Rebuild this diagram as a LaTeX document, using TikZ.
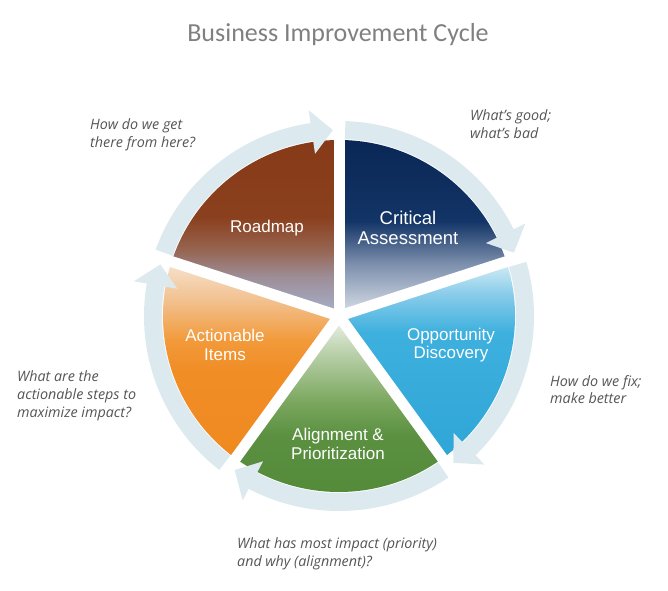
\documentclass[tikz,border=0pt]{standalone}
\usepackage{fontspec}
\setmainfont{Liberation Sans}
\newfontfamily\titlefont{Carlito}
\newfontfamily\notefont{Open Sans}
\definecolor{ringc}{RGB}{220,234,239}
\definecolor{titlec}{RGB}{128,128,128}
\definecolor{notec}{RGB}{85,85,85}
% critical
\definecolor{ca0}{RGB}{220,226,234}
\definecolor{ca1}{RGB}{123,142,172}
\definecolor{ca2}{RGB}{18,52,102}
\definecolor{ca3}{RGB}{10,39,86}
% roadmap
\definecolor{ro0}{RGB}{166,178,207}
\definecolor{ro1}{RGB}{158,142,152}
\definecolor{ro2}{RGB}{150,100,80}
\definecolor{ro3}{RGB}{138,64,30}
\definecolor{ro4}{RGB}{135,58,23}
% actionable
\definecolor{ac0}{RGB}{239,138,32}
\definecolor{ac1}{RGB}{240,141,37}
\definecolor{ac2}{RGB}{242,154,58}
\definecolor{ac3}{RGB}{242,192,142}
\definecolor{ac4}{RGB}{246,227,207}
% opportunity
\definecolor{op0}{RGB}{47,166,215}
\definecolor{op1}{RGB}{61,176,222}
\definecolor{op2}{RGB}{139,205,234}
\definecolor{op3}{RGB}{216,238,246}
% alignment
\definecolor{al0}{RGB}{83,138,56}
\definecolor{al1}{RGB}{90,144,64}
\definecolor{al2}{RGB}{122,167,94}
\definecolor{al3}{RGB}{185,208,170}
\definecolor{al4}{RGB}{240,243,238}
\pgfdeclareverticalshading{critshade}{100bp}{color(0bp)=(ca0); color(25bp)=(ca0); color(40bp)=(ca1); color(52bp)=(ca2); color(75bp)=(ca3); color(100bp)=(ca3)}
\pgfdeclareverticalshading{roadshade}{100bp}{color(0bp)=(ro0); color(25bp)=(ro0); color(36bp)=(ro1); color(44bp)=(ro2); color(53bp)=(ro3); color(75bp)=(ro4); color(100bp)=(ro4)}
\pgfdeclareverticalshading{actshade}{100bp}{color(0bp)=(ac0); color(25bp)=(ac0); color(47bp)=(ac1); color(55bp)=(ac2); color(65bp)=(ac3); color(75bp)=(ac4); color(100bp)=(ac4)}
\pgfdeclareverticalshading{oppshade}{100bp}{color(0bp)=(op0); color(25bp)=(op0); color(57bp)=(op1); color(67bp)=(op2); color(75bp)=(op3); color(100bp)=(op3)}
\pgfdeclareverticalshading{alishade}{100bp}{color(0bp)=(al0); color(25bp)=(al0); color(43bp)=(al1); color(52bp)=(al2); color(65bp)=(al3); color(75bp)=(al4); color(100bp)=(al4)}
\tikzset{
  gapline/.style={white, line width=11},
  ringseg/.style={fill=ringc, draw=none},
  seclabel/.style={text=white, align=center, font=\fontsize{17}{18.5}\selectfont},
  note/.style={text=notec, align=left, anchor=west, inner sep=0pt, font=\notefont\itshape\fontsize{14.3}{17.8}\selectfont}
}
\begin{document}
\begin{tikzpicture}[x=1pt,y=1pt]
\useasboundingbox (0,0) rectangle (668,590);
\fill[white] (0,0) rectangle (668,590);
\node[text=titlec, font=\titlefont\fontsize{26}{30}\selectfont] (title) at (338,555) {Business Improvement Cycle};
\begin{scope}[shift={(339,274)}]
  % sectors
  \path[shading=critshade] (0,0) -- (90:176) arc[start angle=90, end angle=18, radius=176] -- cycle;
  \path[shading=oppshade] (0,0) -- (18:176) arc[start angle=18, end angle=-54, radius=176] -- cycle;
  \path[shading=alishade] (0,0) -- (-54:176) arc[start angle=-54, end angle=-126, radius=176] -- cycle;
  \path[shading=actshade] (0,0) -- (-126:176) arc[start angle=-126, end angle=-198, radius=176] -- cycle;
  \path[shading=roadshade] (0,0) -- (162:176) arc[start angle=162, end angle=90, radius=176] -- cycle;
  % gaps
  \foreach \b in {90,18,-54,-126,162} {
    \draw[gapline] (0,0) -- (\b:182);
  }
  % ring segments with arrowheads
  \foreach \s/\t in {88.1/19.9, 16.1/-52.1, -55.9/-124.1, 232.1/163.9, 160.1/91.9} {
    \pgfmathsetmacro{\bb}{\t+6.5}
    \path[ringseg] (\s:177) arc[start angle=\s, end angle=\bb, radius=177]
      -- (\bb:164) -- (\t:186) -- (\bb:208) -- (\bb:195)
      arc[start angle=\bb, end angle=\s, radius=195] -- cycle;
  }
\end{scope}
% labels
\node[seclabel, font=\fontsize{18.5}{19.5}\selectfont] (crit) at (408,362) {Critical\\Assessment};
\node[seclabel] (road) at (267,362) {Roadmap};
\node[seclabel] (opp) at (451,245) {Opportunity\\Discovery};
\node[seclabel] (act) at (225,245) {Actionable\\Items};
\node[seclabel] (ali) at (338,146) {Alignment \&\\Prioritization};
% notes
\node[note] (n1) at (90,455.5) {How do we get\\there from here?};
\node[note] (n2) at (470,466) {What’s good;\\what’s bad};
\node[note] (n3) at (17,194) {What are the\\actionable steps to\\maximize impact?};
\node[note] (n4) at (550,200.5) {How do we fix;\\make better};
\node[note] (n5) at (237,36) {What has most impact (priority)\\and why (alignment)?};
\end{tikzpicture}
\end{document}
